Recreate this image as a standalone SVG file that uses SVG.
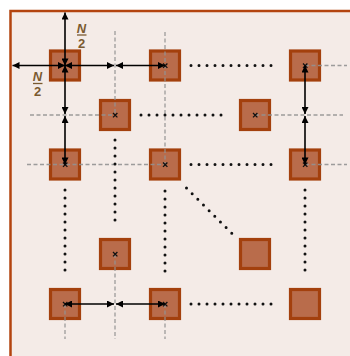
<svg xmlns="http://www.w3.org/2000/svg" width="350" height="356" viewBox="0 0 350 356">
  <style>
    .sq { fill: #b96c4b; stroke: #a3400d; stroke-width: 3.2; }
    .dash { stroke: #929292; stroke-width: 1.3; stroke-dasharray: 4 2.5; fill: none; opacity: 0.9; }
    .dot { stroke: #111; stroke-width: 3; stroke-dasharray: 0 8; stroke-linecap: round; fill: none; }
    .arr { stroke: #000; stroke-width: 1.6; fill: none; marker-start: url(#ah); marker-end: url(#ah); }
    .cx { stroke: #111; stroke-width: 1.3; fill: none; }
    .lbl { font-family: "Liberation Sans", Arial, sans-serif; font-size: 13px; font-weight: bold; fill: #7a5a30; text-anchor: middle; }
    .bar { stroke: #7a5a30; stroke-width: 1.3; }
  </style>
  <defs>
    <marker id="ah" viewBox="0 0 10 10" refX="10" refY="5" markerWidth="8" markerHeight="7" markerUnits="userSpaceOnUse" orient="auto-start-reverse">
      <path d="M0,0 L10,5 L0,10 z" fill="#000"/>
    </marker>
  </defs>
  <rect x="0" y="0" width="350" height="356" fill="#ffffff"/>
  <rect id="frame" x="10.5" y="11" width="345" height="350" fill="#f4ebe7" stroke="#b3440f" stroke-width="2.5"/>

  <g id="nodes">
    <g id="n-0-0"><rect class="sq" x="50.5" y="51" width="29" height="29"/></g>
    <g id="n-0-1"><rect class="sq" x="150.5" y="51" width="29" height="29"/></g>
    <g id="n-0-2"><rect class="sq" x="290.5" y="51" width="29" height="29"/></g>
    <g id="n-o-0-0"><rect class="sq" x="100.5" y="100.5" width="29" height="29"/></g>
    <g id="n-o-0-1"><rect class="sq" x="240.5" y="100.5" width="29" height="29"/></g>
    <g id="n-1-0"><rect class="sq" x="50.5" y="150" width="29" height="29"/></g>
    <g id="n-1-1"><rect class="sq" x="150.5" y="150" width="29" height="29"/></g>
    <g id="n-1-2"><rect class="sq" x="290.5" y="150" width="29" height="29"/></g>
    <g id="n-o-1-0"><rect class="sq" x="100.5" y="239.5" width="29" height="29"/></g>
    <g id="n-o-1-1"><rect class="sq" x="240.5" y="239.5" width="29" height="29"/></g>
    <g id="n-2-0"><rect class="sq" x="50.5" y="289.5" width="29" height="29"/></g>
    <g id="n-2-1"><rect class="sq" x="150.5" y="289.5" width="29" height="29"/></g>
    <g id="n-2-2"><rect class="sq" x="290.5" y="289.5" width="29" height="29"/></g>
  </g>

  <g id="connectors">
    <g id="dashed">
      <line class="dash" x1="115" y1="31" x2="115" y2="115"/>
      <line class="dash" x1="30" y1="115" x2="115" y2="115"/>
      <line class="dash" x1="165" y1="32" x2="165" y2="164.5"/>
      <line class="dash" x1="27" y1="164.5" x2="165" y2="164.5"/>
      <line class="dash" x1="305" y1="65.5" x2="347" y2="65.5"/>
      <line class="dash" x1="255" y1="115" x2="343" y2="115"/>
      <line class="dash" x1="305" y1="164.5" x2="347" y2="164.5"/>
      <line class="dash" x1="65" y1="304" x2="65" y2="339"/>
      <line class="dash" x1="115" y1="254" x2="115" y2="339"/>
      <line class="dash" x1="165" y1="304" x2="165" y2="339"/>
    </g>
    <g id="dotted">
      <line class="dot" x1="191" y1="65.5" x2="279" y2="65.5"/>
      <line class="dot" x1="141" y1="115" x2="229" y2="115"/>
      <line class="dot" x1="191" y1="164.5" x2="279" y2="164.5"/>
      <line class="dot" x1="191" y1="304" x2="279" y2="304"/>
      <line class="dot" x1="65" y1="190" x2="65" y2="278"/>
      <line class="dot" x1="115" y1="140" x2="115" y2="228"/>
      <line class="dot" x1="165" y1="191" x2="165" y2="279"/>
      <line class="dot" x1="305" y1="190" x2="305" y2="278"/>
      <line class="dot" x1="186.5" y1="188" x2="233" y2="234.5"/>
    </g>
    <g id="crosses">
      <path class="cx" d="M163,63.5 l4.4,4.4 M167.4,63.5 l-4.4,4.4"/>
      <path class="cx" d="M303,63.5 l4.4,4.4 M307.4,63.5 l-4.4,4.4"/>
      <path class="cx" d="M113,113 l4.4,4.4 M117.4,113 l-4.4,4.4"/>
      <path class="cx" d="M253,113 l4.4,4.4 M257.4,113 l-4.4,4.4"/>
      <path class="cx" d="M63,162.5 l4.4,4.4 M67.4,162.5 l-4.4,4.4"/>
      <path class="cx" d="M163,162.5 l4.4,4.4 M167.4,162.5 l-4.4,4.4"/>
      <path class="cx" d="M303,162.5 l4.4,4.4 M307.4,162.5 l-4.4,4.4"/>
      <path class="cx" d="M113,252 l4.4,4.4 M117.4,252 l-4.4,4.4"/>
      <path class="cx" d="M63,302 l4.4,4.4 M67.4,302 l-4.4,4.4"/>
      <path class="cx" d="M163,302 l4.4,4.4 M167.4,302 l-4.4,4.4"/>
    </g>
    <g id="arrows">
      <line class="arr" x1="65" y1="65.5" x2="65" y2="12.5"/>
      <line class="arr" x1="65" y1="65.5" x2="12.5" y2="65.5"/>
      <line class="arr" x1="65" y1="65.5" x2="114" y2="65.5"/>
      <line class="arr" x1="116" y1="65.5" x2="165" y2="65.5"/>
      <line class="arr" x1="65" y1="65.5" x2="65" y2="114"/>
      <line class="arr" x1="65" y1="116" x2="65" y2="164.5"/>
      <line class="arr" x1="305" y1="65.5" x2="305" y2="114"/>
      <line class="arr" x1="305" y1="116" x2="305" y2="164.5"/>
      <line class="arr" x1="65" y1="304" x2="114" y2="304"/>
      <line class="arr" x1="116" y1="304" x2="165" y2="304"/>
    </g>
  </g>

  <g id="label-top">
    <text class="lbl" x="81.5" y="32.5" font-style="italic">N</text>
    <line class="bar" x1="77" y1="35" x2="86.5" y2="35"/>
    <text class="lbl" x="81.5" y="47.5">2</text>
  </g>
  <g id="label-left">
    <text class="lbl" x="37.5" y="81" font-style="italic">N</text>
    <line class="bar" x1="33" y1="83.5" x2="42.5" y2="83.5"/>
    <text class="lbl" x="37.5" y="96">2</text>
  </g>
</svg>
